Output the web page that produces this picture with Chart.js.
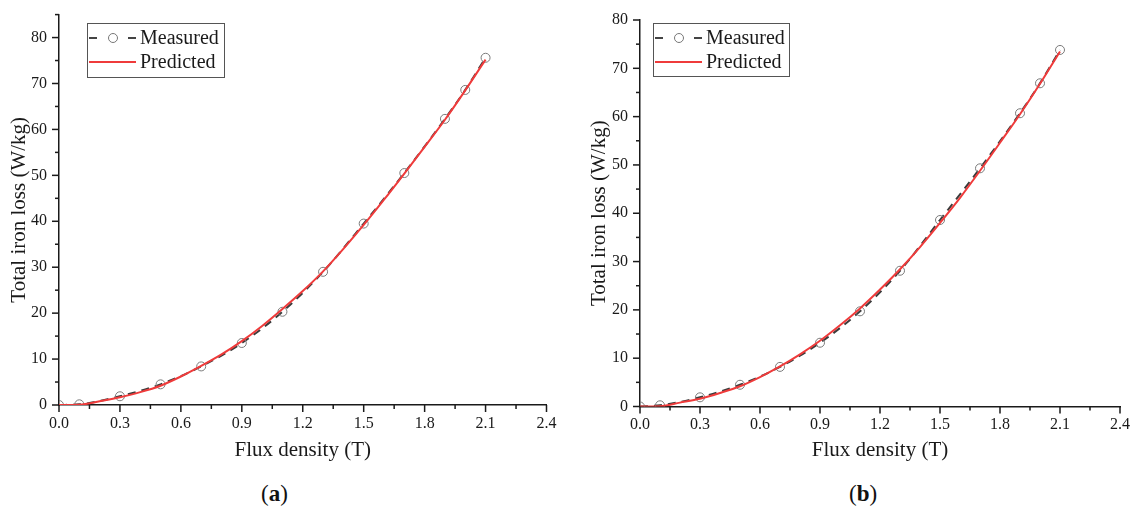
<!DOCTYPE html>
<html>
<head>
<meta charset="utf-8">
<script src="https://cdn.jsdelivr.net/npm/chart.js@4/dist/chart.umd.min.js"></script>
<style>
  body { margin: 0; background: #fff; width: 1135px; height: 515px; position: relative; overflow: hidden; }
  canvas { position: absolute; top: 0; }
  #chartA { left: 0; }
  #chartB { left: 570px; }
  .tag { position: absolute; top: 481px; font-family: 'Liberation Serif', serif; font-size: 23px; color: #111; }
</style>
</head>
<body>
<canvas id="chartA" width="570" height="470"></canvas>
<canvas id="chartB" width="565" height="470"></canvas>
<div class="tag" style="left:261px">(<b>a</b>)</div>
<div class="tag" style="left:849px">(<b>b</b>)</div>
<script>
// data
var fluxMeasured = [0, 0.1, 0.3, 0.5, 0.7, 0.9, 1.1, 1.3, 1.5, 1.7, 1.9, 2.0, 2.1];
var lossMeasuredA = [0, 0.15, 1.9, 4.5, 8.4, 13.5, 20.3, 29.0, 39.5, 50.5, 62.3, 68.6, 75.6];
var lossMeasuredB = [0, 0.25, 1.9, 4.5, 8.2, 13.2, 19.7, 28.1, 38.6, 49.3, 60.7, 66.9, 73.8];

var fluxPredicted = [0, 0.1, 0.2, 0.3, 0.4, 0.5, 0.6, 0.7, 0.8, 0.9, 1.0, 1.1, 1.2, 1.3, 1.4, 1.5, 1.6, 1.7, 1.8, 1.9, 2.0, 2.1];
var lossPredictedA = [0, 0.05, 0.8, 1.7, 2.8, 4.2, 6.2, 8.5, 11.0, 13.9, 17.2, 20.9, 24.8, 29.1, 34.0, 39.2, 44.7, 50.4, 56.2, 62.1, 68.5, 75.2];
var lossPredictedB = [0, 0.05, 0.8, 1.6, 2.8, 4.2, 6.1, 8.3, 10.8, 13.6, 16.8, 20.3, 24.2, 28.4, 33.0, 38.0, 43.2, 48.8, 54.6, 60.5, 66.8, 73.5];

var xMajorTicks = [0, 0.3, 0.6, 0.9, 1.2, 1.5, 1.8, 2.1, 2.4];
var yMajorTicks = [0, 10, 20, 30, 40, 50, 60, 70, 80];

var FONT = "'Liberation Serif', serif";
var INK = '#1a1a1a';
var RED = '#ef3b3b';

function isMajor(list, v) {
  return list.some(function (m) { return Math.abs(m - v) < 1e-6; });
}

function points(xs, ys) {
  return xs.map(function (x, i) { return { x: x, y: ys[i] }; });
}

// ticks drawn by hand so minor ones can be shorter
var tickMarks = {
  id: 'tickMarks',
  afterDraw: function (chart) {
    var ctx = chart.ctx;
    ctx.save();
    ctx.strokeStyle = INK;
    ctx.lineWidth = 1.5;
    var sx = chart.scales.x, sy = chart.scales.y;
    sx.ticks.forEach(function (t) {
      var p = sx.getPixelForValue(t.value);
      var len = isMajor(xMajorTicks, t.value) ? 7 : 4;
      ctx.beginPath(); ctx.moveTo(p, sx.top); ctx.lineTo(p, sx.top + len); ctx.stroke();
    });
    sy.ticks.forEach(function (t) {
      var p = sy.getPixelForValue(t.value);
      var len = isMajor(yMajorTicks, t.value) ? 7 : 4;
      ctx.beginPath(); ctx.moveTo(sy.right, p); ctx.lineTo(sy.right - len, p); ctx.stroke();
    });
    ctx.restore();
  }
};

// boxed legend like the original
var boxLegend = {
  id: 'boxLegend',
  afterDraw: function (chart, args, o) {
    var ctx = chart.ctx;
    ctx.save();
    ctx.strokeStyle = '#555';
    ctx.lineWidth = 1;
    ctx.strokeRect(o.left + 0.5, o.top + 0.5, o.width, o.height);
    var r1 = o.top + 15, r2 = o.top + 39;
    var l = o.left;
    ctx.strokeStyle = '#444';
    ctx.lineWidth = 2;
    ctx.beginPath(); ctx.moveTo(l + 2, r1); ctx.lineTo(l + 10, r1); ctx.stroke();
    ctx.beginPath(); ctx.moveTo(l + 41, r1); ctx.lineTo(l + 49, r1); ctx.stroke();
    ctx.strokeStyle = '#777';
    ctx.lineWidth = 1;
    ctx.beginPath(); ctx.arc(l + 26, r1, 4.5, 0, Math.PI * 2); ctx.stroke();
    ctx.strokeStyle = RED;
    ctx.lineWidth = 2;
    ctx.beginPath(); ctx.moveTo(l + 2, r2); ctx.lineTo(l + 49, r2); ctx.stroke();
    ctx.fillStyle = INK;
    ctx.font = '20px ' + FONT;
    ctx.textBaseline = 'middle';
    ctx.fillText('Measured', l + 53, r1 + 1);
    ctx.fillText('Predicted', l + 53, r2 + 1);
    ctx.restore();
  }
};

function makeChart(id, measured, predicted, cfg) {
  var canvas = document.getElementById(id);
  return new Chart(canvas.getContext('2d'), {
    type: 'line',
    data: {
      datasets: [{
        label: 'Predicted',
        data: points(fluxPredicted, predicted),
        borderColor: RED,
        borderWidth: 2,
        pointRadius: 0,
        cubicInterpolationMode: 'monotone',
        order: 0
      }, {
        label: 'Measured',
        data: points(fluxMeasured, measured),
        borderColor: '#3c3c3c',
        borderWidth: 2,
        borderDash: [8, 6],
        pointRadius: 4.5,
        pointBorderColor: '#7a7a7a',
        pointBorderWidth: 1,
        pointBackgroundColor: 'rgba(0,0,0,0)',
        cubicInterpolationMode: 'monotone',
        order: 1
      }]
    },
    options: {
      responsive: false,
      animation: false,
      layout: { padding: { top: cfg.top, right: cfg.right, left: 0, bottom: 0 } },
      plugins: {
        legend: { display: false },
        tooltip: { enabled: false },
        boxLegend: cfg.legend
      },
      scales: {
        x: {
          type: 'linear',
          min: 0, max: 2.4,
          border: { color: INK, width: 1.5 },
          grid: { drawOnChartArea: false, tickLength: 7, tickColor: 'rgba(0,0,0,0)' },
          ticks: {
            stepSize: 0.15,
            autoSkip: false,
            maxRotation: 0,
            padding: 2,
            color: INK,
            font: { family: FONT, size: 16 },
            callback: function (v) { return isMajor(xMajorTicks, v) ? v.toFixed(1) : ''; }
          },
          title: {
            display: true, text: 'Flux density (T)', color: INK,
            font: { family: FONT, size: 21 }, padding: { top: 0, bottom: 7 }
          },
          afterFit: function (s) { s.height = cfg.xHeight; }
        },
        y: {
          type: 'linear',
          min: 0, max: cfg.yMax,
          border: { color: INK, width: 1.5 },
          grid: { drawOnChartArea: false, tickLength: 7, tickColor: 'rgba(0,0,0,0)' },
          ticks: {
            stepSize: 5,
            autoSkip: false,
            padding: 5,
            color: INK,
            font: { family: FONT, size: 16 },
            callback: function (v) { return isMajor(yMajorTicks, v) ? String(v) : ''; }
          },
          title: {
            display: true, text: 'Total iron loss (W/kg)', color: INK,
            font: { family: FONT, size: 21 }, padding: { top: cfg.yTitlePad, bottom: 0 }
          },
          afterFit: function (s) { s.width = cfg.yWidth; }
        }
      }
    },
    plugins: [tickMarks, boxLegend]
  });
}

makeChart('chartA', lossMeasuredA, lossPredictedA, {
  top: 12, right: 23.5, xHeight: 65, yWidth: 59, yMax: 85, yTitlePad: 7,
  legend: { left: 87, top: 23, width: 137, height: 54 }
});

makeChart('chartB', lossMeasuredB, lossPredictedB, {
  top: 20, right: 15, xHeight: 63.5, yWidth: 70, yMax: 80, yTitlePad: 17,
  legend: { left: 83, top: 23, width: 136, height: 53 }
});
</script>
</body>
</html>
